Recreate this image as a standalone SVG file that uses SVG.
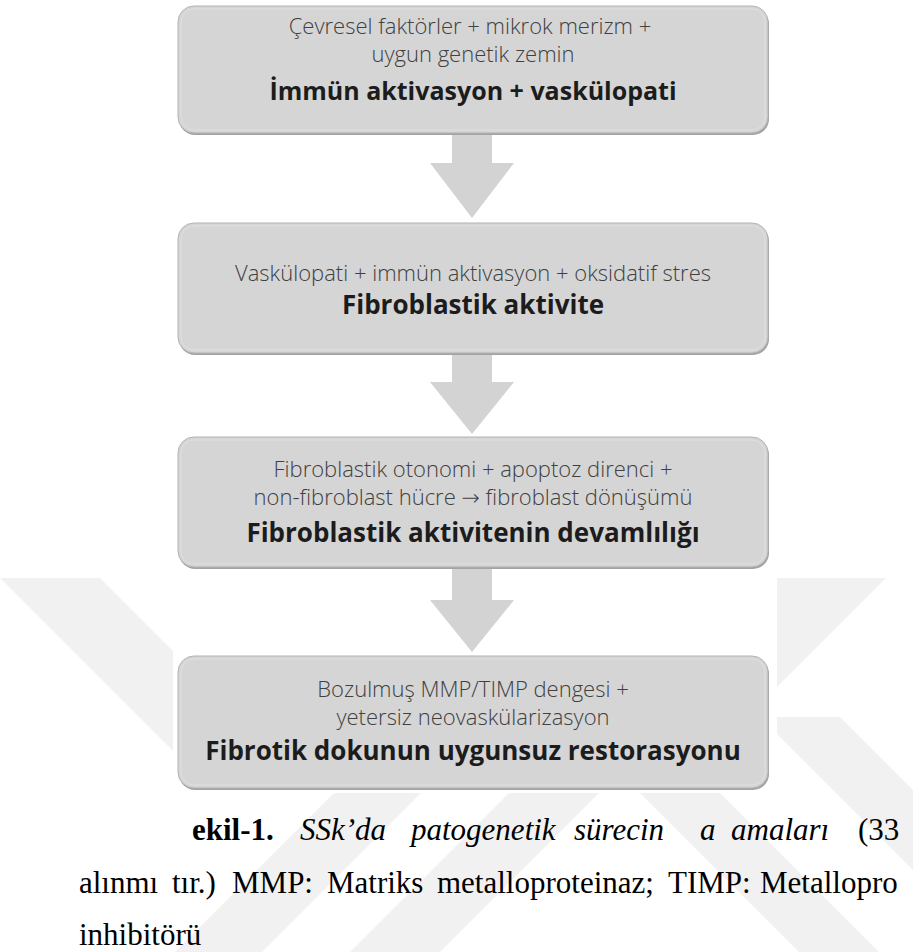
<svg xmlns="http://www.w3.org/2000/svg" width="913" height="952" viewBox="0 0 913 952">
<style>
.wm{fill:#f1f1f1}
.shadow{fill:#a3a3a3}
.box{fill:#d5d5d5;stroke:#b3b3b3;stroke-width:1}
.hl{fill:none;stroke:#e0e0e0;stroke-width:1}
.arrow{fill:#d3d3d3}
.lt{font-family:"Open Sans","Noto Sans","DejaVu Sans",sans-serif;font-size:22px;font-weight:300;fill:#404040;text-anchor:middle}
.bd{font-family:"Open Sans","Noto Sans","DejaVu Sans",sans-serif;font-size:26px;font-weight:bold;fill:#1c1c1c;text-anchor:middle}
.cap{font-family:"Liberation Serif","Times New Roman",serif;font-size:31px;fill:#000}
</style>
<rect width="913" height="952" fill="#ffffff"/>
<g id="watermark">
<polygon class="wm" points="0,578 100,578 315,793 215,793"/>
<polygon class="wm" points="175,952 262,952 421,793 334,793"/>
<polygon class="wm" points="350,952 440,952 599,793 509,793"/>
<polygon class="wm" points="640,793 720,793 879,952 799,952"/>
<polygon class="wm" points="760,717 840,717 913,790 913,870"/>
<polygon class="wm" points="776,578 886,578 700,764 700,654"/>
</g>
<rect x="173" y="0" width="604" height="793" fill="#ffffff"/>
<g id="connectors">
<polygon class="arrow" points="452,133 492,133 492,163 514,163 472,218 430,163 452,163"/>
<polygon class="arrow" points="452,353 492,353 492,382 514,382 472,434 430,382 452,382"/>
<polygon class="arrow" points="452,567 492,567 492,600 514,600 472,652 430,600 452,600"/>
</g>
<g id="node1">
<rect class="shadow" x="179" y="8" width="590" height="127" rx="16"/>
<rect class="box" x="178" y="6" width="590" height="127" rx="16"/>
<rect class="hl" x="181" y="9" width="584" height="121" rx="13"/>
<text class="lt" x="470" y="34">Çevresel faktörler + mikrok merizm +</text>
<text class="lt" x="473" y="62">uygun genetik zemin</text>
<text class="bd" x="473" y="100" style="font-size:25px">İmmün aktivasyon + vaskülopati</text>
</g>
<g id="node2">
<rect class="shadow" x="179" y="225" width="590" height="130" rx="16"/>
<rect class="box" x="178" y="223" width="590" height="130" rx="16"/>
<rect class="hl" x="181" y="226" width="584" height="124" rx="13"/>
<text class="lt" x="473" y="281">Vaskülopati + immün aktivasyon + oksidatif stres</text>
<text class="bd" x="473" y="314">Fibroblastik aktivite</text>
</g>
<g id="node3">
<rect class="shadow" x="179" y="439" width="590" height="130" rx="16"/>
<rect class="box" x="178" y="437" width="590" height="130" rx="16"/>
<rect class="hl" x="181" y="440" width="584" height="124" rx="13"/>
<text class="lt" x="473" y="477">Fibroblastik otonomi + apoptoz direnci +</text>
<text class="lt" x="473" y="505">non-fibroblast hücre → fibroblast dönüşümü</text>
<text class="bd" x="473" y="542">Fibroblastik aktivitenin devamlılığı</text>
</g>
<g id="node4">
<rect class="shadow" x="179" y="658" width="590" height="132" rx="16"/>
<rect class="box" x="178" y="656" width="590" height="132" rx="16"/>
<rect class="hl" x="181" y="659" width="584" height="126" rx="13"/>
<text class="lt" x="473" y="697">Bozulmuş MMP/TIMP dengesi +</text>
<text class="lt" x="473" y="725">yetersiz neovaskülarizasyon</text>
<text class="bd" x="473" y="760">Fibrotik dokunun uygunsuz restorasyonu</text>
</g>
<g id="caption">
<text class="cap" y="840"><tspan x="192" font-weight="bold">ekil-1.</tspan><tspan x="300" font-style="italic">SSk’da</tspan><tspan x="411" font-style="italic">patogenetik</tspan><tspan x="574" font-style="italic">sürecin</tspan><tspan x="700" font-style="italic">a</tspan><tspan x="731" font-style="italic">amaları</tspan><tspan x="858">(33</tspan></text>
<text class="cap" y="893"><tspan x="79">alınmı</tspan><tspan x="172">tır.)</tspan><tspan x="232">MMP:</tspan><tspan x="327">Matriks</tspan><tspan x="437">metalloproteinaz;</tspan><tspan x="668">TIMP:</tspan><tspan x="760">Metallopro</tspan></text>
<text class="cap" x="79" y="945">inhibitörü</text>
</g>
</svg>
